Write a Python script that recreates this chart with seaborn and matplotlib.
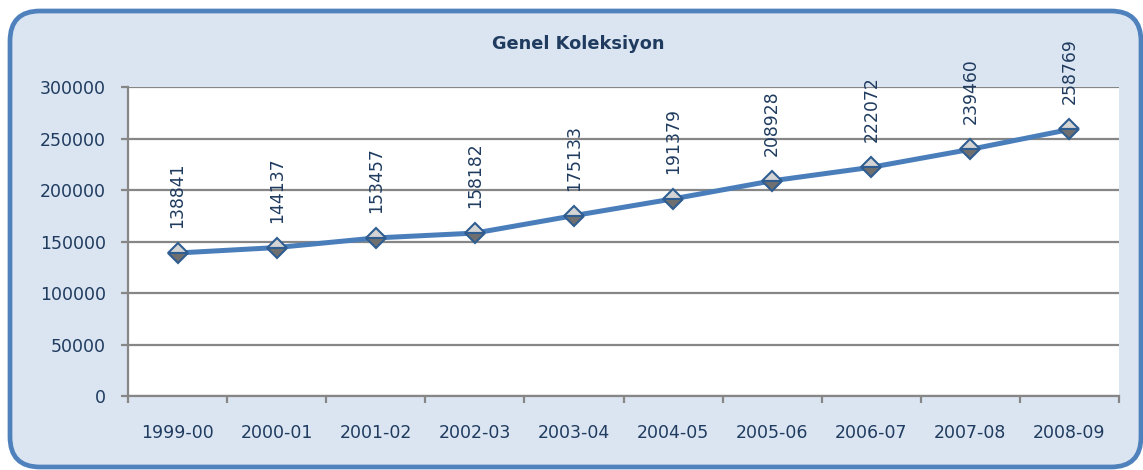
import pandas as pd
import matplotlib.pyplot as plt
from matplotlib.patches import FancyBboxPatch
from matplotlib.ticker import FixedLocator
import seaborn as sns

# veri
years = ['1999-00', '2000-01', '2001-02', '2002-03', '2003-04',
         '2004-05', '2005-06', '2006-07', '2007-08', '2008-09']
collection = [138841, 144137, 153457, 158182, 175133,
              191379, 208928, 222072, 239460, 258769]
y_ticks = [0, 50000, 100000, 150000, 200000, 250000, 300000]

df = pd.DataFrame({'Yil': years, 'Koleksiyon': collection})

navy = '#1f3b5f'
grid_gray = '#868686'

sns.set_theme(style="white")
plt.rcParams['font.family'] = ['DejaVu Sans']

fig = plt.figure(figsize=(11.43, 4.70), dpi=100)
fig.patch.set_facecolor('white')

# arka plan kutusu (yuvarlak köşeli)
box = FancyBboxPatch((10, 3), 1131, 456,
                     boxstyle="round,pad=0,rounding_size=30",
                     facecolor='#dbe5f1', edgecolor='#4f81bd', linewidth=3.4,
                     transform=None, zorder=-5)
fig.patches.append(box)

ax = fig.add_axes([0.112, 0.1574, 0.867, 0.6575])
ax.set_zorder(2)
ax.set_facecolor('white')

sns.lineplot(data=df, x='Yil', y='Koleksiyon', ax=ax, color='#4a7ebb',
             linewidth=3.6, marker='D', markersize=10, fillstyle='top',
             markerfacecolor='#d4d4d4', markerfacecoloralt='#6f6f6f',
             markeredgecolor='#2f5d91', markeredgewidth=1.5, zorder=5)

for i, v in enumerate(collection):
    ax.annotate(str(v), (i, v), xytext=(0, 18), textcoords='offset points',
                rotation=90, ha='center', va='bottom', fontsize=12.4,
                color=navy, zorder=6, annotation_clip=False)

ax.set_xlim(-0.5, len(years) - 0.5)
ax.set_ylim(0, 300000)
ax.set_yticks(y_ticks)
ax.set_yticklabels([str(t) for t in y_ticks])
ax.set_xticks(range(len(years)))
ax.set_xticklabels(years)
ax.xaxis.set_minor_locator(FixedLocator([i - 0.5 for i in range(len(years) + 1)]))

ax.grid(axis='y', color=grid_gray, linewidth=1.6, zorder=1)
ax.set_axisbelow(True)
for s in ['top', 'right']:
    ax.spines[s].set_visible(False)
for s in ['left', 'bottom']:
    ax.spines[s].set_color(grid_gray)
    ax.spines[s].set_linewidth(1.6)

ax.tick_params(axis='y', which='major', length=5, width=1.6, color=grid_gray,
               direction='out', left=True, pad=11, labelsize=12.5, labelcolor=navy)
ax.tick_params(axis='x', which='major', length=0, pad=20, labelsize=12.5,
               labelcolor=navy)
ax.tick_params(axis='x', which='minor', length=5, width=1.6, color=grid_gray,
               direction='out', bottom=True)
ax.set_xlabel('')
ax.set_ylabel('')

fig.text(0.506, 0.906, 'Genel Koleksiyon', ha='center', va='center',
         fontsize=12.8, fontweight='bold', color=navy)

plt.savefig('out.png', dpi=100)
